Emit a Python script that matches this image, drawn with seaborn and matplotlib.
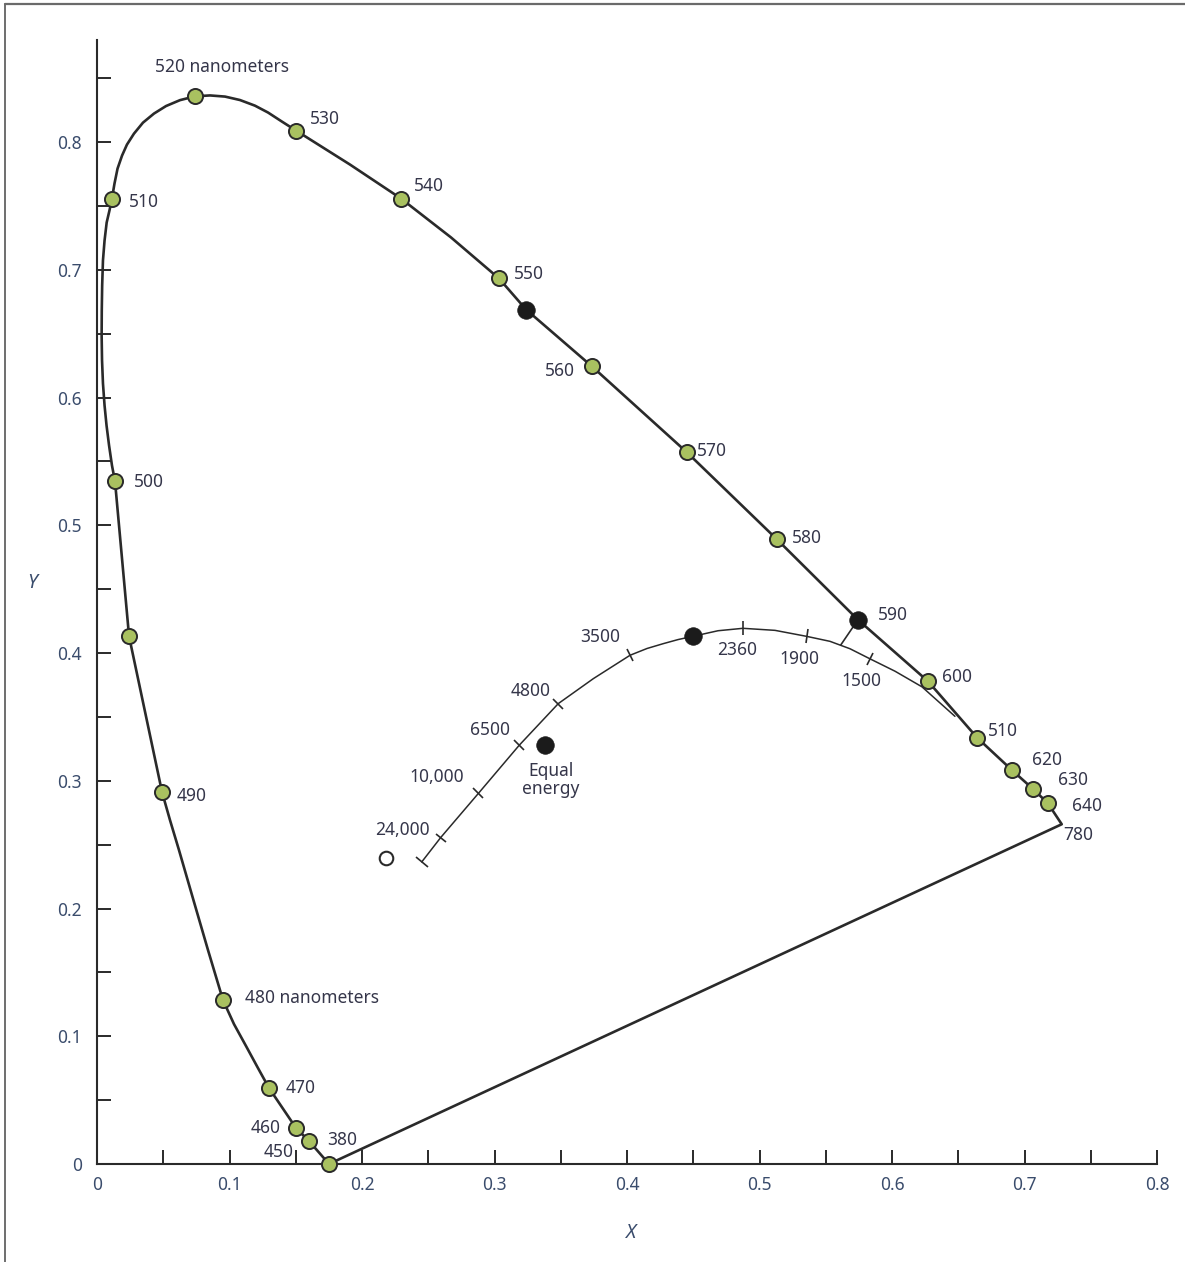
import numpy as np
import pandas as pd
import matplotlib
matplotlib.use("Agg")
import matplotlib.pyplot as plt
from matplotlib.lines import Line2D
from matplotlib.markers import MarkerStyle
from matplotlib.transforms import Affine2D
import seaborn as sns

# ---------------------------------------------------------------------------
# Spectral locus, traced from 380 nm round the horseshoe to 780 nm
locus_x = [0.1751, 0.1600, 0.1502, 0.1298, 0.1215, 0.1125, 0.1034, 0.0951,
           0.0838, 0.0728, 0.0619, 0.0551, 0.0491, 0.0242, 0.0136, 0.0113,
           0.0091, 0.0072, 0.0057, 0.0045, 0.0038, 0.0035, 0.0036, 0.0039,
           0.0045, 0.0057, 0.0073, 0.0094, 0.0113, 0.0132, 0.0155, 0.0189,
           0.0226, 0.0279, 0.0347, 0.0430, 0.0521, 0.0626, 0.0740, 0.0853,
           0.0966, 0.1079, 0.1192, 0.1291, 0.1396, 0.1502, 0.1909, 0.2294,
           0.2672, 0.3034, 0.3238, 0.3736, 0.4453, 0.5132, 0.5743, 0.6272,
           0.6642, 0.6906, 0.7061, 0.7175, 0.7281]
locus_y = [0.0000, 0.0180, 0.0282, 0.0595, 0.0751, 0.0923, 0.1095, 0.1283,
           0.1674, 0.2066, 0.2457, 0.2692, 0.2911, 0.4131, 0.5344, 0.5469,
           0.5626, 0.5782, 0.5939, 0.6111, 0.6291, 0.6487, 0.6682, 0.6878,
           0.7074, 0.7230, 0.7371, 0.7465, 0.7559, 0.7676, 0.7793, 0.7895,
           0.7981, 0.8067, 0.8153, 0.8224, 0.8283, 0.8329, 0.8359, 0.8366,
           0.8357, 0.8330, 0.8286, 0.8232, 0.8161, 0.8091, 0.7825, 0.7559,
           0.7254, 0.6933, 0.6690, 0.6244, 0.5571, 0.4890, 0.4261, 0.3779,
           0.3338, 0.3083, 0.2939, 0.2826, 0.2660]

# Wavelength markers (green)
green_names = ["380", "450", "460", "470", "480 nanometers", "490", "", "500",
               "510", "520 nanometers", "530", "540", "550", "560", "570",
               "580", "600", "510", "620", "630", "640"]
green_x = [0.1751, 0.1600, 0.1502, 0.1298, 0.0951, 0.0491, 0.0242, 0.0136,
           0.0113, 0.0740, 0.1502, 0.2294, 0.3034, 0.3736, 0.4453, 0.5132,
           0.6272, 0.6642, 0.6906, 0.7061, 0.7175]
green_y = [0.0000, 0.0180, 0.0282, 0.0595, 0.1283, 0.2911, 0.4131, 0.5344,
           0.7559, 0.8359, 0.8091, 0.7559, 0.6933, 0.6244, 0.5571, 0.4890,
           0.3779, 0.3338, 0.3083, 0.2939, 0.2826]

# Black markers on the locus
black_names = ["", "590"]
black_x = [0.3238, 0.5743]
black_y = [0.6690, 0.4261]

# Black-body (Planckian) locus
planck_x = [0.2451, 0.2594, 0.2878, 0.3187, 0.3482, 0.3746, 0.4023, 0.4151,
            0.4274, 0.4386, 0.4496, 0.4687, 0.4875, 0.5117, 0.5356, 0.5532,
            0.5683, 0.5834, 0.6023, 0.6226, 0.6475]
planck_y = [0.2365, 0.2556, 0.2901, 0.3279, 0.3605, 0.3800, 0.3983, 0.4036,
            0.4074, 0.4106, 0.4131, 0.4175, 0.4194, 0.4178, 0.4131, 0.4092,
            0.4034, 0.3955, 0.3858, 0.3736, 0.3505]

# Colour temperatures marked on the Planckian locus (kelvin)
temp_names = ["24,000", "10,000", "6500", "4800", "3500", "2360", "1900", "1500"]
temp_x = [0.2594, 0.2878, 0.3187, 0.3482, 0.4023, 0.4875, 0.5356, 0.5834]
temp_y = [0.2556, 0.2901, 0.3279, 0.3605, 0.3983, 0.4194, 0.4131, 0.3955]

# Other reference points
lamp_x, lamp_y = 0.4496, 0.4131          # black dot on the Planckian locus
equal_x, equal_y = 0.3381, 0.3279        # equal-energy white
open_x, open_y = 0.2181, 0.2394          # open circle
link_x = [0.5743, 0.5613]                # connector 590 nm -> Planckian locus
link_y = [0.4261, 0.4063]

# ---------------------------------------------------------------------------
# Label placement (pixel offsets from each point, alignment)
green_offsets = [(-2, 24, "left"), (-15, -11, "right"), (-15, 0, "right"),
                 (17, 0, "left"), (22, 2, "left"), (15, -4, "left"), None,
                 (19, -1, "left"), (17, -3, "left"), (-40, 29, "left"),
                 (14, 12, "left"), (13, 13, "left"), (15, 4, "left"),
                 (-17, -5, "right"), (10, 1, "left"), (15, 1, "left"),
                 (14, 4, "left"), (11, 7, "left"), (20, 10, "left"),
                 (25, 9, "left"), (24, -3, "left")]
black_offsets = [None, (20, 5, "left")]
temp_offsets = [(-11, 8, "right"), (-14, 16, "right"), (-9, 15, "right"),
                (-8, 13, "right"), (-10, 18, "right"), (-6, -22, "center"),
                (-7, -23, "center"), (-9, -22, "center")]

INK = "#2a2a2a"
TEXT = "#35364a"
TICKTEXT = "#3a4c6c"
GREEN = "#a9c160"
FS = 12.5

sns.set_theme(style="ticks")
plt.rcParams["font.family"] = ["Noto Sans", "DejaVu Sans"]

W, H = 1185, 1262
fig = plt.figure(figsize=(W / 100, H / 100), dpi=100)
fig.patch.set_facecolor("white")
ax = fig.add_axes([97 / W, (H - 1164) / H, 1060 / W, 1124 / H])
ax.set_facecolor("white")
ax.set_xlim(0, 0.8)
ax.set_ylim(0, 0.88)

# Spectral locus with the purple line closing it
locus = pd.DataFrame({"x": locus_x + [locus_x[0]], "y": locus_y + [locus_y[0]]})
sns.lineplot(data=locus, x="x", y="y", sort=False, estimator=None,
             color=INK, lw=1.9, ax=ax, zorder=2)
ax.lines[-1].set_solid_joinstyle("round")

# Planckian locus
planck = pd.DataFrame({"x": planck_x, "y": planck_y})
sns.lineplot(data=planck, x="x", y="y", sort=False, estimator=None,
             color=INK, lw=1.1, ax=ax, zorder=2)
ax.lines[-1].set_solid_joinstyle("round")
ax.plot(link_x, link_y, color=INK, lw=1.2, zorder=2)

# Perpendicular ticks along the Planckian locus (and its end cap)
pts = ax.transData.transform(np.column_stack([planck_x, planck_y]))
tick_idx = [0] + [int(np.argmin(np.hypot(np.array(planck_x) - tx,
                                          np.array(planck_y) - ty)))
                  for tx, ty in zip(temp_x, temp_y)]
for k, i in enumerate(tick_idx):
    a = pts[max(i - 1, 0)]
    b = pts[min(i + 1, len(pts) - 1)]
    ang = np.degrees(np.arctan2(b[1] - a[1], b[0] - a[0]))
    mk = MarkerStyle("|", transform=Affine2D().rotate_deg(ang))
    ax.plot(planck_x[i], planck_y[i], marker=mk, ms=10 if k else 11,
            mew=1.2, color=INK, zorder=3)

# Markers
sns.scatterplot(x=green_x, y=green_y, s=118, color=GREEN, edgecolor=INK,
                linewidth=1.4, ax=ax, zorder=4)
ax.collections[-1].set_clip_on(False)
sns.scatterplot(x=black_x + [lamp_x, equal_x], y=black_y + [lamp_y, equal_y],
                s=160, color="#1b1b1b", edgecolor="#1b1b1b", linewidth=0.5,
                ax=ax, zorder=4)
sns.scatterplot(x=[open_x], y=[open_y], s=95, color="white", edgecolor=INK,
                linewidth=1.5, ax=ax, zorder=4)

# Wavelength labels
def put(name, x, y, off):
    if off is None or not name:
        return
    dx, dy, ha = off
    ax.annotate(name, (x, y), xytext=(dx, dy), textcoords="offset pixels",
                ha=ha, va="center", fontsize=FS, color=TEXT, zorder=5)

for n, x, y, o in zip(green_names, green_x, green_y, green_offsets):
    put(n, x, y, o)
for n, x, y, o in zip(black_names, black_x, black_y, black_offsets):
    put(n, x, y, o)
put("780", locus_x[-1], locus_y[-1], (2, -11, "left"))
for n, x, y, o in zip(temp_names, temp_x, temp_y, temp_offsets):
    put(n, x, y, o)
ax.annotate("Equal\nenergy", (equal_x, equal_y), xytext=(6, -17),
            textcoords="offset pixels", ha="center", va="top",
            fontsize=FS, color=TEXT, linespacing=1.0)

# Axes styling
ticks = np.round(np.arange(0, 0.81, 0.1), 2)
ax.set_xticks(ticks)
ax.set_yticks(ticks)
ax.set_xticks(np.round(np.arange(0, 0.81, 0.05), 2), minor=True)
ax.set_yticks(np.round(np.arange(0, 0.86, 0.05), 2), minor=True)
lbls = ["0"] + [f"{t:.1f}" for t in ticks[1:]]
ax.set_xticklabels(lbls)
ax.set_yticklabels(lbls)
ax.tick_params(which="both", direction="in", length=10, width=1.4,
               color=INK, labelcolor=TICKTEXT, labelsize=FS)
ax.tick_params(axis="x", which="both", pad=9)
ax.tick_params(axis="y", which="both", pad=11)
for side in ("top", "right"):
    ax.spines[side].set_visible(False)
for side in ("left", "bottom"):
    ax.spines[side].set_color(INK)
    ax.spines[side].set_linewidth(1.5)

ax.set_xlabel("X", style="italic", fontsize=14, color=TICKTEXT)
ax.set_ylabel("Y", style="italic", fontsize=14, color=TICKTEXT,
              rotation=0, ha="center", va="center")
ax.xaxis.set_label_coords((630 - 97) / 1060, (1164 - 1223) / 1124)
ax.yaxis.set_label_coords((32 - 97) / 1060, (1164 - 583) / 1124)

# Frame lines along the left and top edges of the page
fig.add_artist(Line2D([4.5 / W, 4.5 / W], [0, 1 - 3.5 / H],
                      transform=fig.transFigure, color="#555555", lw=1.2))
fig.add_artist(Line2D([4.5 / W, 1], [1 - 3.5 / H, 1 - 3.5 / H],
                      transform=fig.transFigure, color="#6a6a6a", lw=1.6))

fig.savefig("out.png", dpi=100, facecolor="white")
